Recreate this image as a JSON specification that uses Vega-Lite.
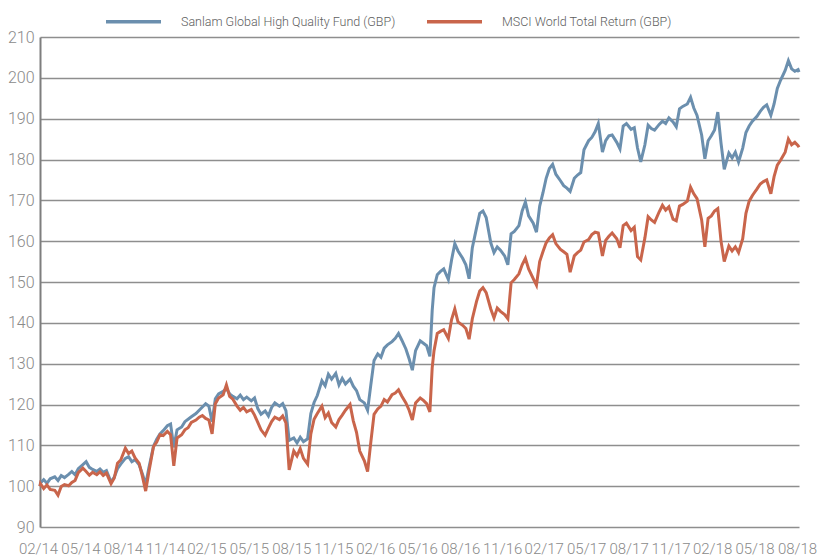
{
  "$schema": "https://vega.github.io/schema/vega-lite/v6.json",
  "width": 759,
  "height": 490,
  "autosize": "none",
  "padding": {"left": 40, "top": 37, "right": 18, "bottom": 31},
  "background": "white",
  "config": {
    "view": {"stroke": null},
    "font": "Roboto",
    "axis": {"labelFont": "Roboto", "labelFontWeight": 300, "labelColor": "#8a8a8a", "ticks": false, "tickSize": 0, "title": null}
  },
  "datasets": {
    "fund": [
      {"d":"2014/02/28","v":100.0},
      {"d":"2014/03/01","v":100.8},{"d":"2014/03/08","v":101.6},{"d":"2014/03/15","v":100.7},{"d":"2014/03/22","v":101.8},
      {"d":"2014/04/01","v":102.3},{"d":"2014/04/08","v":101.4},{"d":"2014/04/15","v":102.6},{"d":"2014/04/22","v":102.1},
      {"d":"2014/05/01","v":102.9},{"d":"2014/05/08","v":103.6},{"d":"2014/05/15","v":102.8},{"d":"2014/05/22","v":104.3},
      {"d":"2014/06/01","v":105.3},{"d":"2014/06/08","v":106.0},{"d":"2014/06/15","v":104.6},{"d":"2014/06/22","v":104.1},
      {"d":"2014/07/01","v":103.6},{"d":"2014/07/08","v":104.2},{"d":"2014/07/15","v":103.4},{"d":"2014/07/22","v":103.8},
      {"d":"2014/08/01","v":101.0},{"d":"2014/08/08","v":102.2},{"d":"2014/08/15","v":104.3},{"d":"2014/08/22","v":105.4},
      {"d":"2014/09/01","v":106.8},{"d":"2014/09/08","v":107.2},{"d":"2014/09/15","v":106.0},{"d":"2014/09/22","v":106.5},
      {"d":"2014/10/01","v":105.2},{"d":"2014/10/08","v":103.0},{"d":"2014/10/15","v":100.4},{"d":"2014/10/22","v":104.5},
      {"d":"2014/11/01","v":109.8},{"d":"2014/11/08","v":111.5},{"d":"2014/11/15","v":112.8},{"d":"2014/11/22","v":113.6},
      {"d":"2014/12/01","v":114.8},{"d":"2014/12/08","v":115.2},{"d":"2014/12/15","v":109.5},{"d":"2014/12/22","v":113.8},
      {"d":"2015/01/01","v":114.5},{"d":"2015/01/08","v":115.8},{"d":"2015/01/15","v":116.4},{"d":"2015/01/22","v":117.0},
      {"d":"2015/02/01","v":117.8},{"d":"2015/02/08","v":118.6},{"d":"2015/02/15","v":119.4},{"d":"2015/02/22","v":120.2},
      {"d":"2015/03/01","v":119.6},{"d":"2015/03/08","v":115.8},{"d":"2015/03/15","v":121.4},{"d":"2015/03/22","v":122.6},
      {"d":"2015/04/01","v":123.2},{"d":"2015/04/08","v":123.9},{"d":"2015/04/15","v":122.6},{"d":"2015/04/22","v":122.0},
      {"d":"2015/05/01","v":121.4},{"d":"2015/05/08","v":122.3},{"d":"2015/05/15","v":121.2},{"d":"2015/05/22","v":121.8},
      {"d":"2015/06/01","v":120.9},{"d":"2015/06/08","v":121.6},{"d":"2015/06/15","v":119.0},{"d":"2015/06/22","v":117.6},
      {"d":"2015/07/01","v":118.4},{"d":"2015/07/08","v":117.2},{"d":"2015/07/15","v":119.3},{"d":"2015/07/22","v":120.4},
      {"d":"2015/08/01","v":119.6},{"d":"2015/08/08","v":120.2},{"d":"2015/08/15","v":118.5},{"d":"2015/08/22","v":111.2},
      {"d":"2015/09/01","v":111.8},{"d":"2015/09/08","v":110.6},{"d":"2015/09/15","v":112.0},{"d":"2015/09/22","v":110.9},
      {"d":"2015/10/01","v":111.6},{"d":"2015/10/08","v":117.8},{"d":"2015/10/15","v":120.5},{"d":"2015/10/22","v":122.2},
      {"d":"2015/11/01","v":125.8},{"d":"2015/11/08","v":124.6},{"d":"2015/11/15","v":127.4},{"d":"2015/11/22","v":126.2},
      {"d":"2015/12/01","v":127.6},{"d":"2015/12/08","v":124.8},{"d":"2015/12/15","v":126.4},{"d":"2015/12/22","v":125.0},
      {"d":"2016/01/01","v":126.2},{"d":"2016/01/08","v":124.5},{"d":"2016/01/15","v":123.4},{"d":"2016/01/22","v":121.2},
      {"d":"2016/02/01","v":120.4},{"d":"2016/02/08","v":118.6},{"d":"2016/02/15","v":124.8},{"d":"2016/02/22","v":130.8},
      {"d":"2016/03/01","v":132.4},{"d":"2016/03/08","v":131.6},{"d":"2016/03/15","v":133.8},{"d":"2016/03/22","v":134.6},
      {"d":"2016/04/01","v":135.4},{"d":"2016/04/08","v":136.2},{"d":"2016/04/15","v":137.4},{"d":"2016/04/22","v":135.8},
      {"d":"2016/05/01","v":133.6},{"d":"2016/05/08","v":131.2},{"d":"2016/05/15","v":128.4},{"d":"2016/05/22","v":133.2},
      {"d":"2016/06/01","v":135.6},{"d":"2016/06/08","v":135.0},{"d":"2016/06/15","v":134.4},{"d":"2016/06/22","v":131.8},
      {"d":"2016/06/27","v":143.0},
      {"d":"2016/07/01","v":148.6},{"d":"2016/07/08","v":151.8},{"d":"2016/07/15","v":152.6},{"d":"2016/07/22","v":153.2},
      {"d":"2016/08/01","v":150.6},{"d":"2016/08/08","v":155.4},{"d":"2016/08/15","v":159.4},{"d":"2016/08/22","v":157.6},
      {"d":"2016/09/01","v":155.8},{"d":"2016/09/08","v":154.2},{"d":"2016/09/15","v":150.8},{"d":"2016/09/22","v":158.4},
      {"d":"2016/10/01","v":163.2},{"d":"2016/10/08","v":166.8},{"d":"2016/10/15","v":167.4},{"d":"2016/10/22","v":165.8},
      {"d":"2016/11/01","v":159.6},{"d":"2016/11/08","v":157.2},{"d":"2016/11/15","v":158.6},{"d":"2016/11/22","v":157.8},
      {"d":"2016/12/01","v":156.4},{"d":"2016/12/08","v":154.2},{"d":"2016/12/15","v":161.8},{"d":"2016/12/22","v":162.4},
      {"d":"2017/01/01","v":163.8},{"d":"2017/01/08","v":167.4},{"d":"2017/01/15","v":169.6},{"d":"2017/01/22","v":166.2},
      {"d":"2017/02/01","v":164.4},{"d":"2017/02/08","v":162.2},{"d":"2017/02/15","v":168.6},{"d":"2017/02/22","v":171.8},
      {"d":"2017/03/01","v":175.4},{"d":"2017/03/08","v":177.8},{"d":"2017/03/15","v":178.8},{"d":"2017/03/22","v":176.4},
      {"d":"2017/04/01","v":174.8},{"d":"2017/04/08","v":173.6},{"d":"2017/04/15","v":173.0},{"d":"2017/04/22","v":172.2},
      {"d":"2017/05/01","v":175.4},{"d":"2017/05/08","v":176.2},{"d":"2017/05/15","v":176.8},{"d":"2017/05/22","v":182.4},
      {"d":"2017/06/01","v":184.6},{"d":"2017/06/08","v":185.4},{"d":"2017/06/15","v":186.8},{"d":"2017/06/22","v":188.8},
      {"d":"2017/07/01","v":181.8},{"d":"2017/07/08","v":184.6},{"d":"2017/07/15","v":185.8},{"d":"2017/07/22","v":186.0},
      {"d":"2017/08/01","v":184.2},{"d":"2017/08/08","v":182.6},{"d":"2017/08/15","v":188.2},{"d":"2017/08/22","v":188.8},
      {"d":"2017/09/01","v":187.4},{"d":"2017/09/08","v":187.8},{"d":"2017/09/15","v":182.8},{"d":"2017/09/22","v":179.4},
      {"d":"2017/10/01","v":183.6},{"d":"2017/10/08","v":188.4},{"d":"2017/10/15","v":187.6},{"d":"2017/10/22","v":187.2},
      {"d":"2017/11/01","v":188.6},{"d":"2017/11/08","v":189.4},{"d":"2017/11/15","v":188.8},{"d":"2017/11/22","v":190.2},
      {"d":"2017/12/01","v":189.2},{"d":"2017/12/08","v":188.0},{"d":"2017/12/15","v":192.4},{"d":"2017/12/22","v":193.0},
      {"d":"2018/01/01","v":193.6},{"d":"2018/01/08","v":195.2},{"d":"2018/01/15","v":192.6},{"d":"2018/01/22","v":190.8},
      {"d":"2018/02/01","v":186.0},{"d":"2018/02/08","v":180.2},{"d":"2018/02/15","v":184.6},{"d":"2018/02/22","v":185.8},
      {"d":"2018/03/01","v":187.2},{"d":"2018/03/08","v":191.6},{"d":"2018/03/15","v":184.0},{"d":"2018/03/22","v":177.6},
      {"d":"2018/04/01","v":181.6},{"d":"2018/04/08","v":180.4},{"d":"2018/04/15","v":181.8},{"d":"2018/04/22","v":179.4},
      {"d":"2018/05/01","v":182.8},{"d":"2018/05/08","v":186.6},{"d":"2018/05/15","v":188.2},{"d":"2018/05/22","v":189.4},
      {"d":"2018/06/01","v":190.6},{"d":"2018/06/08","v":191.8},{"d":"2018/06/15","v":192.8},{"d":"2018/06/22","v":193.4},
      {"d":"2018/07/01","v":190.8},{"d":"2018/07/08","v":193.6},{"d":"2018/07/15","v":197.4},{"d":"2018/07/22","v":199.4},
      {"d":"2018/08/01","v":201.8},{"d":"2018/08/08","v":204.2},{"d":"2018/08/15","v":202.2},{"d":"2018/08/22","v":201.6},
      {"d":"2018/08/29","v":202.0},{"d":"2018/08/31","v":201.4}
    ],
    "msci": [
      {"d":"2014/02/28","v":100.0},
      {"d":"2014/03/01","v":100.6},{"d":"2014/03/08","v":99.4},{"d":"2014/03/15","v":100.3},{"d":"2014/03/22","v":99.2},
      {"d":"2014/04/01","v":99.0},{"d":"2014/04/08","v":97.8},{"d":"2014/04/15","v":99.9},{"d":"2014/04/22","v":100.4},
      {"d":"2014/05/01","v":100.1},{"d":"2014/05/08","v":100.9},{"d":"2014/05/15","v":101.4},{"d":"2014/05/22","v":103.3},
      {"d":"2014/06/01","v":104.4},{"d":"2014/06/08","v":103.6},{"d":"2014/06/15","v":102.7},{"d":"2014/06/22","v":103.4},
      {"d":"2014/07/01","v":102.8},{"d":"2014/07/08","v":103.5},{"d":"2014/07/15","v":102.6},{"d":"2014/07/22","v":103.2},
      {"d":"2014/08/01","v":100.6},{"d":"2014/08/08","v":102.0},{"d":"2014/08/15","v":105.6},{"d":"2014/08/22","v":106.4},
      {"d":"2014/09/01","v":109.3},{"d":"2014/09/08","v":108.0},{"d":"2014/09/15","v":108.6},{"d":"2014/09/22","v":106.9},
      {"d":"2014/10/01","v":105.6},{"d":"2014/10/08","v":102.4},{"d":"2014/10/15","v":98.8},{"d":"2014/10/22","v":103.5},
      {"d":"2014/11/01","v":109.7},{"d":"2014/11/08","v":110.8},{"d":"2014/11/15","v":112.6},{"d":"2014/11/22","v":112.4},
      {"d":"2014/12/01","v":113.4},{"d":"2014/12/08","v":112.6},{"d":"2014/12/15","v":105.0},{"d":"2014/12/22","v":111.8},
      {"d":"2015/01/01","v":112.6},{"d":"2015/01/08","v":113.8},{"d":"2015/01/15","v":114.3},{"d":"2015/01/22","v":115.6},
      {"d":"2015/02/01","v":116.2},{"d":"2015/02/08","v":116.9},{"d":"2015/02/15","v":117.3},{"d":"2015/02/22","v":116.6},
      {"d":"2015/03/01","v":116.2},{"d":"2015/03/08","v":112.8},{"d":"2015/03/15","v":120.2},{"d":"2015/03/22","v":121.6},
      {"d":"2015/04/01","v":122.4},{"d":"2015/04/08","v":124.8},{"d":"2015/04/15","v":122.0},{"d":"2015/04/22","v":121.3},
      {"d":"2015/05/01","v":119.6},{"d":"2015/05/08","v":118.6},{"d":"2015/05/15","v":119.3},{"d":"2015/05/22","v":118.2},
      {"d":"2015/06/01","v":118.8},{"d":"2015/06/08","v":117.4},{"d":"2015/06/15","v":115.6},{"d":"2015/06/22","v":113.8},
      {"d":"2015/07/01","v":112.5},{"d":"2015/07/08","v":114.2},{"d":"2015/07/15","v":115.8},{"d":"2015/07/22","v":116.9},
      {"d":"2015/08/01","v":116.3},{"d":"2015/08/08","v":117.2},{"d":"2015/08/15","v":115.5},{"d":"2015/08/22","v":104.0},
      {"d":"2015/09/01","v":108.6},{"d":"2015/09/08","v":107.4},{"d":"2015/09/15","v":109.2},{"d":"2015/09/22","v":106.8},
      {"d":"2015/10/01","v":105.4},{"d":"2015/10/08","v":112.8},{"d":"2015/10/15","v":116.4},{"d":"2015/10/22","v":117.8},
      {"d":"2015/11/01","v":119.6},{"d":"2015/11/08","v":116.8},{"d":"2015/11/15","v":117.9},{"d":"2015/11/22","v":115.6},
      {"d":"2015/12/01","v":114.5},{"d":"2015/12/08","v":116.3},{"d":"2015/12/15","v":117.4},{"d":"2015/12/22","v":118.6},
      {"d":"2016/01/01","v":120.0},{"d":"2016/01/08","v":116.0},{"d":"2016/01/15","v":113.2},{"d":"2016/01/22","v":108.6},
      {"d":"2016/02/01","v":106.2},{"d":"2016/02/08","v":103.6},{"d":"2016/02/15","v":110.8},{"d":"2016/02/22","v":117.6},
      {"d":"2016/03/01","v":118.9},{"d":"2016/03/08","v":119.6},{"d":"2016/03/15","v":121.2},{"d":"2016/03/22","v":120.6},
      {"d":"2016/04/01","v":122.4},{"d":"2016/04/08","v":122.8},{"d":"2016/04/15","v":123.6},{"d":"2016/04/22","v":122.1},
      {"d":"2016/05/01","v":120.4},{"d":"2016/05/08","v":118.6},{"d":"2016/05/15","v":116.2},{"d":"2016/05/22","v":120.4},
      {"d":"2016/06/01","v":121.6},{"d":"2016/06/08","v":121.0},{"d":"2016/06/15","v":120.2},{"d":"2016/06/22","v":118.2},
      {"d":"2016/06/27","v":129.0},
      {"d":"2016/07/01","v":133.2},{"d":"2016/07/08","v":137.4},{"d":"2016/07/15","v":137.9},{"d":"2016/07/22","v":138.3},
      {"d":"2016/08/01","v":136.2},{"d":"2016/08/08","v":140.8},{"d":"2016/08/15","v":143.4},{"d":"2016/08/22","v":140.2},
      {"d":"2016/09/01","v":139.4},{"d":"2016/09/08","v":138.6},{"d":"2016/09/15","v":136.0},{"d":"2016/09/22","v":141.0},
      {"d":"2016/10/01","v":145.2},{"d":"2016/10/08","v":147.8},{"d":"2016/10/15","v":148.6},{"d":"2016/10/22","v":147.4},
      {"d":"2016/11/01","v":143.4},{"d":"2016/11/08","v":141.2},{"d":"2016/11/15","v":143.6},{"d":"2016/11/22","v":142.8},
      {"d":"2016/12/01","v":142.0},{"d":"2016/12/08","v":141.0},{"d":"2016/12/15","v":149.8},{"d":"2016/12/22","v":150.6},
      {"d":"2017/01/01","v":152.0},{"d":"2017/01/08","v":154.2},{"d":"2017/01/15","v":155.8},{"d":"2017/01/22","v":153.2},
      {"d":"2017/02/01","v":150.8},{"d":"2017/02/08","v":149.2},{"d":"2017/02/15","v":155.0},{"d":"2017/02/22","v":157.4},
      {"d":"2017/03/01","v":159.6},{"d":"2017/03/08","v":160.8},{"d":"2017/03/15","v":161.6},{"d":"2017/03/22","v":159.4},
      {"d":"2017/04/01","v":158.0},{"d":"2017/04/08","v":157.4},{"d":"2017/04/15","v":156.8},{"d":"2017/04/22","v":152.4},
      {"d":"2017/05/01","v":156.4},{"d":"2017/05/08","v":157.2},{"d":"2017/05/15","v":157.8},{"d":"2017/05/22","v":159.8},
      {"d":"2017/06/01","v":160.4},{"d":"2017/06/08","v":161.6},{"d":"2017/06/15","v":162.2},{"d":"2017/06/22","v":162.0},
      {"d":"2017/07/01","v":156.4},{"d":"2017/07/08","v":160.2},{"d":"2017/07/15","v":161.2},{"d":"2017/07/22","v":162.0},
      {"d":"2017/08/01","v":160.6},{"d":"2017/08/08","v":158.4},{"d":"2017/08/15","v":163.8},{"d":"2017/08/22","v":164.4},
      {"d":"2017/09/01","v":162.6},{"d":"2017/09/08","v":163.4},{"d":"2017/09/15","v":156.2},{"d":"2017/09/22","v":155.4},
      {"d":"2017/10/01","v":160.8},{"d":"2017/10/08","v":166.0},{"d":"2017/10/15","v":165.2},{"d":"2017/10/22","v":164.6},
      {"d":"2017/11/01","v":167.2},{"d":"2017/11/08","v":168.8},{"d":"2017/11/15","v":167.6},{"d":"2017/11/22","v":168.4},
      {"d":"2017/12/01","v":165.4},{"d":"2017/12/08","v":165.0},{"d":"2017/12/15","v":168.6},{"d":"2017/12/22","v":169.0},
      {"d":"2018/01/01","v":169.8},{"d":"2018/01/08","v":173.2},{"d":"2018/01/15","v":171.6},{"d":"2018/01/22","v":170.4},
      {"d":"2018/02/01","v":165.2},{"d":"2018/02/08","v":158.6},{"d":"2018/02/15","v":165.6},{"d":"2018/02/22","v":166.2},
      {"d":"2018/03/01","v":167.4},{"d":"2018/03/08","v":168.0},{"d":"2018/03/15","v":160.0},{"d":"2018/03/22","v":155.0},
      {"d":"2018/04/01","v":158.8},{"d":"2018/04/08","v":157.6},{"d":"2018/04/15","v":158.6},{"d":"2018/04/22","v":157.2},
      {"d":"2018/05/01","v":160.6},{"d":"2018/05/08","v":166.8},{"d":"2018/05/15","v":169.8},{"d":"2018/05/22","v":171.2},
      {"d":"2018/06/01","v":172.8},{"d":"2018/06/08","v":174.0},{"d":"2018/06/15","v":174.6},{"d":"2018/06/22","v":175.0},
      {"d":"2018/07/01","v":171.6},{"d":"2018/07/08","v":175.8},{"d":"2018/07/15","v":178.6},{"d":"2018/07/22","v":179.8},
      {"d":"2018/08/01","v":181.8},{"d":"2018/08/08","v":185.0},{"d":"2018/08/15","v":183.6},{"d":"2018/08/22","v":184.2},
      {"d":"2018/08/29","v":183.4},{"d":"2018/08/31","v":183.0}
    ]
  },
  "encoding": {
    "x": {
      "field": "d", "type": "temporal",
      "scale": {"domain": [{"year":2014,"month":2,"date":28},{"year":2018,"month":8,"date":31}], "nice": false},
      "axis": {
        "values": [
          {"year":2014,"month":2,"date":28},{"year":2014,"month":5,"date":31},{"year":2014,"month":8,"date":31},{"year":2014,"month":11,"date":30},
          {"year":2015,"month":2,"date":28},{"year":2015,"month":5,"date":31},{"year":2015,"month":8,"date":31},{"year":2015,"month":11,"date":30},
          {"year":2016,"month":2,"date":29},{"year":2016,"month":5,"date":31},{"year":2016,"month":8,"date":31},{"year":2016,"month":11,"date":30},
          {"year":2017,"month":2,"date":28},{"year":2017,"month":5,"date":31},{"year":2017,"month":8,"date":31},{"year":2017,"month":11,"date":30},
          {"year":2018,"month":2,"date":28},{"year":2018,"month":5,"date":31},{"year":2018,"month":8,"date":31}
        ],
        "format": "%m/%y", "formatType": "time", "labelFontSize": 15, "labelOffset": -2,
        "grid": false, "domain": false, "labelPadding": 14, "labelOverlap": false, "labelFlush": false, "labelBound": false
      }
    },
    "y": {
      "field": "v", "type": "quantitative",
      "scale": {"domain": [90, 210], "nice": false, "zero": false},
      "axis": {
        "values": [90,100,110,120,130,140,150,160,170,180,190,200,210],
        "labelFontSize": 16,
        "grid": true, "gridColor": "#8e8e8e", "gridWidth": 1.6,
        "domain": true, "domainColor": "#7e7e7e", "domainWidth": 2,
        "labelPadding": 6, "labelFlush": false, "labelBound": false
      }
    },
    "color": {
      "scale": {"domain": ["Sanlam Global High Quality Fund (GBP)", "MSCI World Total Return (GBP)"], "range": ["#6b8fae", "#c9654b"]},
      "legend": {
        "orient": "none", "legendX": 64, "legendY": -45, "direction": "horizontal", "title": null,
        "symbolType": "stroke", "symbolSize": 3025, "symbolStrokeWidth": 3.5,
        "labelFont": "Roboto", "labelFontWeight": 300, "labelFontSize": 12.5, "labelColor": "#5e5e5e",
        "labelOffset": 18, "columnPadding": 24, "labelLimit": 400, "padding": 0
      }
    }
  },
  "layer": [
    {
      "data": {"name": "fund"},
      "mark": {"type": "line", "strokeWidth": 3, "strokeJoin": "miter"},
      "encoding": {"color": {"datum": "Sanlam Global High Quality Fund (GBP)"}}
    },
    {
      "data": {"name": "msci"},
      "mark": {"type": "line", "strokeWidth": 3, "strokeJoin": "miter"},
      "encoding": {"color": {"datum": "MSCI World Total Return (GBP)"}}
    }
  ]
}
